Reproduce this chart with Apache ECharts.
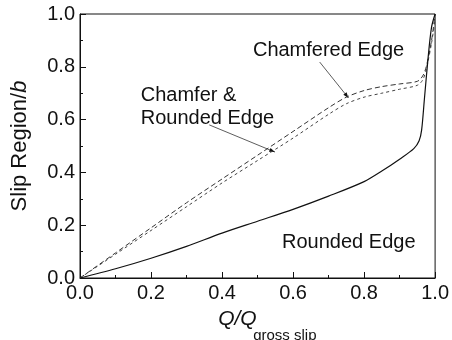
<!DOCTYPE html>
<html><head><meta charset="utf-8">
<script src="https://cdn.jsdelivr.net/npm/echarts@6/dist/echarts.min.js"></script>
<style>html,body{margin:0;padding:0;background:#fff}#c{width:452px;height:340px}</style>
</head><body><div id="c"></div>
<script>
// Data (x = Q/Q_gross slip, y = slip region / b)
var chamferedX = [0,0.1,0.2,0.3,0.4,0.5,0.6,0.7,0.75,0.8,0.85,0.9,0.95,0.965,0.975,0.99,1.0];
var chamferedY = [0,0.095,0.19,0.285,0.375,0.465,0.555,0.645,0.685,0.71,0.725,0.735,0.745,0.765,0.8,0.9,1.0];
var chamRoundX = [0,0.1,0.2,0.3,0.4,0.5,0.6,0.7,0.75,0.8,0.85,0.9,0.95,0.965,0.975,0.99,1.0];
var chamRoundY = [0,0.09,0.18,0.27,0.36,0.445,0.53,0.62,0.66,0.685,0.70,0.715,0.73,0.75,0.79,0.89,0.98];
var roundedX = [0,0.1,0.2,0.3,0.4,0.5,0.6,0.7,0.8,0.85,0.9,0.94,0.955,0.962,0.97,0.98,0.99,1.0];
var roundedY = [0,0.035,0.075,0.12,0.17,0.215,0.26,0.31,0.365,0.405,0.45,0.49,0.52,0.56,0.68,0.83,0.95,1.0];
var xTicks = [0,0.2,0.4,0.6,0.8,1.0];
var yTicks = [0,0.2,0.4,0.6,0.8,1.0];
function pairs(xs, ys){ return xs.map(function(x,i){return [x, ys[i]];}); }

var chart = echarts.init(document.getElementById('c'));
var FONT = 'Liberation Sans, Arial, sans-serif';
var axisCommon = {
  min: 0, max: 1, interval: 0.2,
  axisLine: {show: true, lineStyle: {color: '#111', width: 1}},
  axisTick: {show: true, inside: true, length: 6, lineStyle: {color: '#111'}},
  minorTick: {show: true, splitNumber: 2, length: 3, lineStyle: {color: '#111'}},
  splitLine: {show: false},
  axisLabel: {color: '#111', fontSize: 20, fontFamily: FONT, formatter: function(v){return v.toFixed(1);}}
};
chart.setOption({
  animation: false,
  grid: {left: 80, right: 15, top: 14, bottom: 62, show: true, borderColor: '#111', borderWidth: 1},
  xAxis: Object.assign({}, axisCommon, {
    type: 'value',
    axisLabel: Object.assign({}, axisCommon.axisLabel, {margin: 5})
  }),
  yAxis: Object.assign({}, axisCommon, {
    type: 'value',
    axisLabel: Object.assign({}, axisCommon.axisLabel, {margin: 5}),
    name: 'Slip Region/{i|b}', nameLocation: 'middle', nameGap: 49,
    nameTextStyle: {fontSize: 22, fontFamily: FONT, color: '#111', rich: {
      i: {fontSize: 22, fontFamily: FONT, fontStyle: 'italic', color: '#111'}
    }}
  }),
  series: [
    {type: 'line', name: 'Chamfered Edge', data: pairs(chamferedX, chamferedY), smooth: 0.3, showSymbol: false,
     lineStyle: {color: '#333', width: 1, type: [5,3]}},
    {type: 'line', name: 'Chamfer & Rounded Edge', data: pairs(chamRoundX, chamRoundY), smooth: 0.3, showSymbol: false,
     lineStyle: {color: '#444', width: 1, type: [3,3]}},
    {type: 'line', name: 'Rounded Edge', data: pairs(roundedX, roundedY), smooth: 0.3, showSymbol: false,
     lineStyle: {color: '#111', width: 1.2}}
  ]
});

// annotations in data coordinates
var labels = [
  {text: 'Chamfered Edge', x: 0.487, y: 0.862},
  {text: 'Chamfer &', x: 0.171, y: 0.69},
  {text: 'Rounded Edge', x: 0.171, y: 0.603},
  {text: 'Rounded Edge', x: 0.569, y: 0.135}
];
var arrows = [
  {from: [0.675, 0.818], to: [0.756, 0.682]},
  {from: [0.364, 0.58], to: [0.549, 0.477]}
];
var g = [];
labels.forEach(function(l){
  var p = chart.convertToPixel({gridIndex: 0}, [l.x, l.y]);
  g.push({type: 'text', x: p[0], y: p[1], style: {text: l.text, fontSize: 20, fontFamily: FONT, fill: '#111', textAlign: 'left', textVerticalAlign: 'middle'}});
});
arrows.forEach(function(a){
  var p1 = chart.convertToPixel({gridIndex: 0}, a.from);
  var p2 = chart.convertToPixel({gridIndex: 0}, a.to);
  g.push({type: 'line', shape: {x1: p1[0], y1: p1[1], x2: p2[0], y2: p2[1]}, style: {stroke: '#333', lineWidth: 0.8}});
  var ang = Math.atan2(p2[1]-p1[1], p2[0]-p1[0]);
  var L = 6, w = 0.35;
  g.push({type: 'polygon', shape: {points: [
    [p2[0], p2[1]],
    [p2[0]-L*Math.cos(ang-w), p2[1]-L*Math.sin(ang-w)],
    [p2[0]-L*Math.cos(ang+w), p2[1]-L*Math.sin(ang+w)]
  ]}, style: {fill: '#111'}});
});
// x-axis title: Q/Q with subscript "gross slip"
var base = chart.convertToPixel({gridIndex: 0}, [0.389, 0]);
g.push({type: 'text', x: base[0], y: base[1] + 52, style: {text: 'Q/Q', fontSize: 21, fontStyle: 'italic', fontFamily: FONT, fill: '#111', textAlign: 'left', textVerticalAlign: 'bottom'}});
g.push({type: 'text', x: base[0] + 35, y: base[1] + 65, style: {text: 'gross slip', fontSize: 15, fontFamily: FONT, fill: '#111', textAlign: 'left', textVerticalAlign: 'bottom'}});
chart.setOption({graphic: g});
</script></body></html>
